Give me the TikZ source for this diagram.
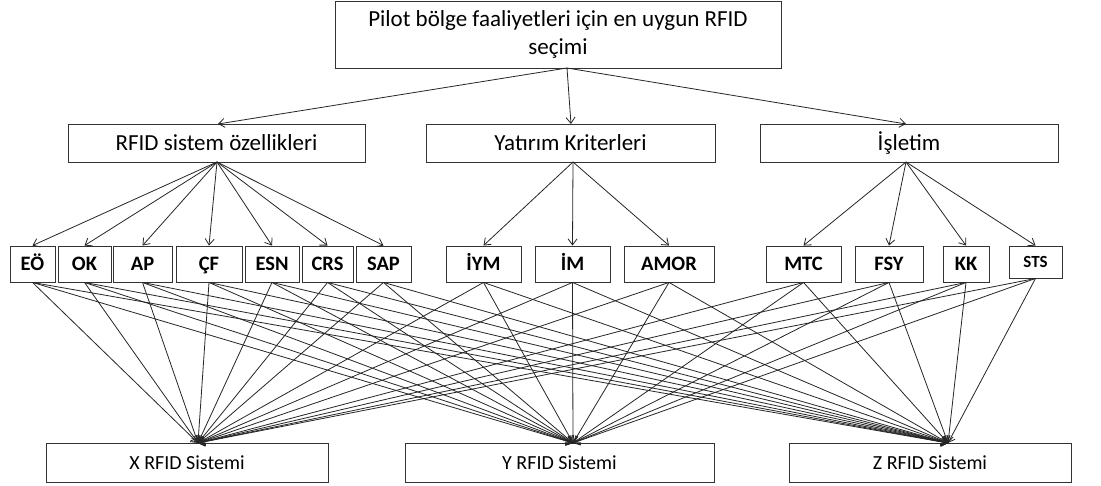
\documentclass[tikz,border=0pt]{standalone}
\usepackage{fontspec}
\setmainfont{Carlito}
\usetikzlibrary{arrows.meta}
\tikzset{
  box/.style={draw=black!80, line width=0.9pt, inner sep=0pt, fill=white, align=center},
  topbox/.style={box, font=\fontsize{23}{28}\selectfont},
  midbox/.style={box, minimum height=38pt, font=\fontsize{23}{28}\selectfont},
  crit/.style={box, minimum height=36pt, text height=13pt, text depth=0pt, font=\fontsize{20.5}{24}\selectfont\bfseries},
  botbox/.style={box, minimum height=39pt, font=\fontsize{20}{24}\selectfont},
  arr/.style={draw=black!85, line width=0.8pt, -{Straight Barb[length=6pt,width=9pt]}}
}
\begin{document}
\begin{tikzpicture}[x=1pt,y=-1pt]
\useasboundingbox[fill=white] (0,0) rectangle (1101,486);
% top
\node[topbox, minimum width=446pt, minimum height=67pt] (top) at (558,34.5) {Pilot bölge faaliyetleri için en uygun RFID\\seçimi};
% level 2
\node[midbox, minimum width=297pt] (A) at (216.5,143) {RFID sistem özellikleri};
\node[midbox, minimum width=289pt] (B) at (570.5,143) {Yatırım Kriterleri};
\node[midbox, minimum width=298pt] (C) at (909,143) {İşletim};
% criteria
\node[crit, minimum width=45pt] (EO) at (32.5,264) {EÖ};
\node[crit, minimum width=53pt] (OK) at (84.5,264) {OK};
\node[crit, minimum width=59pt] (AP) at (142.5,264) {AP};
\node[crit, minimum width=66pt] (CF) at (209,264) {ÇF};
\node[crit, minimum width=54pt] (ESN) at (272,264) {ESN};
\node[crit, minimum width=51pt] (CRS) at (327.5,264) {CRS};
\node[crit, minimum width=55pt] (SAP) at (383.5,264) {SAP};
\node[crit, minimum width=75pt] (IYM) at (483.5,264) {İYM};
\node[crit, minimum width=75pt] (IM) at (572.5,264) {İM};
\node[crit, minimum width=90pt] (AMOR) at (669,264) {AMOR};
\node[crit, minimum width=75pt] (MTC) at (803.5,264) {MTC};
\node[crit, minimum width=68pt] (FSY) at (889,264) {FSY};
\node[crit, minimum width=46pt] (KK) at (966,264) {KK};
\node[crit, minimum width=53pt, minimum height=32pt, text height=11pt, font=\fontsize{17}{20}\selectfont\bfseries] (STS) at (1035.5,262) {STS};
% bottom
\node[botbox, minimum width=282pt] (X) at (187,462.5) {X RFID Sistemi};
\node[botbox, minimum width=309pt] (Y) at (559.5,462.5) {Y RFID Sistemi};
\node[botbox, minimum width=282pt] (Z) at (930,462.5) {Z RFID Sistemi};
% connection points
\coordinate (ts) at (567,68);
\coordinate (ain) at (218,124);
\coordinate (bin) at (571,124);
\coordinate (cin) at (906,124);
\coordinate (aout) at (217,162);
\coordinate (bout) at (573,162);
\coordinate (cout) at (906,162);
\coordinate (xin) at (198,443);
\coordinate (yin) at (573,443);
\coordinate (zin) at (948,443);
% arrows top -> level 2
\draw[arr] (ts) -- (ain);
\draw[arr] (ts) -- (bin);
\draw[arr] (ts) -- (cin);
% level 2 -> criteria
\foreach \n in {EO,OK,AP,CF,ESN,CRS,SAP} \draw[arr] (aout) -- (\n.north);
\foreach \n in {IYM,IM,AMOR} \draw[arr] (bout) -- (\n.north);
\foreach \n in {MTC,FSY,KK,STS} \draw[arr] (cout) -- (\n.north);
% criteria -> alternatives
\foreach \n in {EO,OK,AP,CF,ESN,CRS,SAP,IYM,IM,AMOR,MTC,FSY,KK,STS} {
  \draw[arr] (\n.south) -- (xin);
  \draw[arr] (\n.south) -- (yin);
  \draw[arr] (\n.south) -- (zin);
}
\end{tikzpicture}
\end{document}
